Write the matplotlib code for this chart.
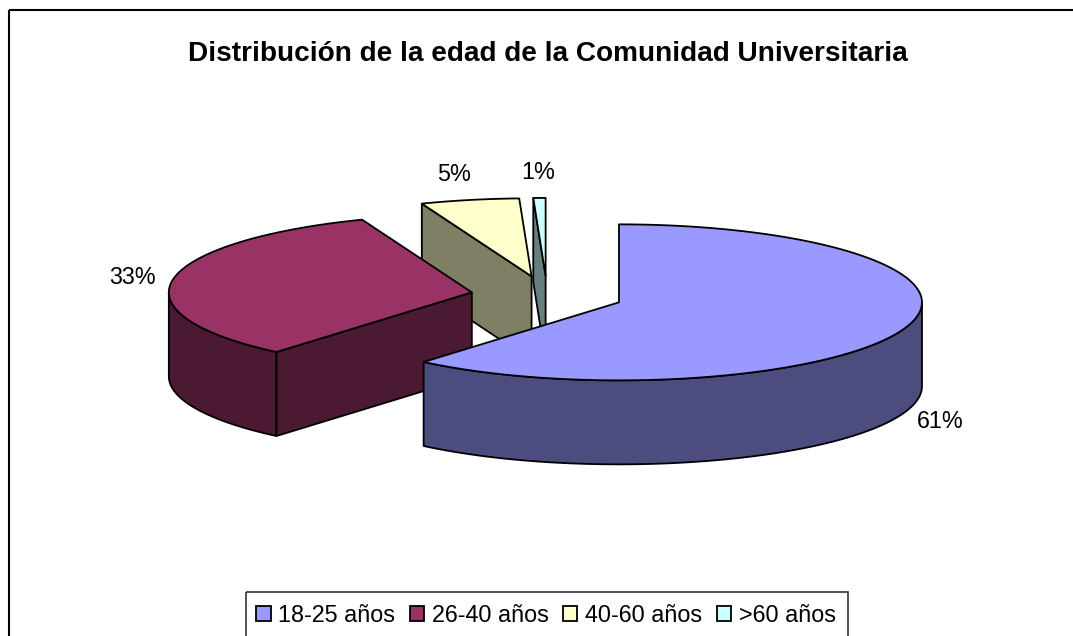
import numpy as np
import matplotlib
matplotlib.use("Agg")
import matplotlib.pyplot as plt
from matplotlib.patches import Polygon, Rectangle

plt.rcParams['font.family'] = ['Liberation Sans', 'DejaVu Sans']

title = "Distribución de la edad de la Comunidad Universitaria"
categories = ["18-25 años", "26-40 años", "40-60 años", ">60 años"]
values = [61.15, 32.95, 5.25, 0.65]
top_colors = ["#9999FF", "#993366", "#FFFFCC", "#CCFFFF"]
side_colors = ["#4C4C7F", "#4C1933", "#7F7F66", "#667F7F"]
label_offsets = [(37, -92), (-40, 2), (-16, 25), (-1, 25)]
draw_order = [2, 3, 1, 0]

W, H = 1073, 636
CX, CY, RX, RY, DEPTH, EXPLODE = 547.2, 295.6, 303.0, 78.0, 84.0, 76.4

fig = plt.figure(figsize=(W / 100, H / 100), dpi=100, facecolor="white")
ax = fig.add_axes([0, 0, 1, 1])
ax.set_xlim(0, W)
ax.set_ylim(H, 0)
ax.axis("off")

ax.add_patch(Rectangle((9, 10), W + 50, H + 50, fill=False, ec="black", lw=1.5))
ax.text(548, 54, title, ha="center", va="center", fontsize=20.2, fontweight="bold", color="black")


def rim(c, t):
    return c[0] + RX * np.sin(t), c[1] - RY * np.cos(t)


fracs = np.array(values) / sum(values) * 2 * np.pi
ends = np.cumsum(fracs)
starts = ends - fracs
LW = 1.3

for i in draw_order:
    a, b = starts[i], ends[i]
    mid = (a + b) / 2
    c = (CX + EXPLODE * np.sin(mid), CY - EXPLODE * RY / RX * np.cos(mid))
    # outer wall, front half only
    lo, hi = max(a, np.pi / 2), min(b, 3 * np.pi / 2)
    if hi > lo:
        ts = np.linspace(lo, hi, 120)
        x, y = rim(c, ts)
        pts = np.r_[np.c_[x, y], np.c_[x[::-1], y[::-1] + DEPTH]]
        ax.add_patch(Polygon(pts, closed=True, fc=side_colors[i], ec="black", lw=LW, joinstyle="round"))
    # visible cut faces
    for t, vis in ((a, np.pi < a < 2 * np.pi), (b, 0 < b < np.pi)):
        if vis:
            px, py = rim(c, t)
            pts = [c, (px, py), (px, py + DEPTH), (c[0], c[1] + DEPTH)]
            ax.add_patch(Polygon(pts, closed=True, fc=side_colors[i], ec="black", lw=LW, joinstyle="round"))
    # top surface
    ts = np.linspace(a, b, 200)
    x, y = rim(c, ts)
    pts = np.r_[[c], np.c_[x, y]]
    ax.add_patch(Polygon(pts, closed=True, fc=top_colors[i], ec="black", lw=LW, joinstyle="round"))

for i in range(len(values)):
    mid = (starts[i] + ends[i]) / 2
    c = (CX + EXPLODE * np.sin(mid), CY - EXPLODE * RY / RX * np.cos(mid))
    ax.annotate(f"{values[i]:.0f}%", xy=rim(c, mid), xytext=label_offsets[i], textcoords="offset pixels",
                ha="center", va="center", fontsize=16.85, color="black")

ax.add_patch(Rectangle((246, 592), 602, 80, fill=False, ec="#333333", lw=1.2))
handles = [Rectangle((0, 0), 1, 1, fc=col, ec="black", lw=1.3) for col in top_colors]
leg = ax.legend(handles, categories, ncols=4, loc="center", bbox_to_anchor=(546 / W, 1 - 615 / H),
                fontsize=16.85, frameon=False,
                handlelength=0.62, handleheight=0.62, handletextpad=0.34, columnspacing=0.6,
                borderpad=0, borderaxespad=0)

fig.savefig("out.png", dpi=100, facecolor="white")
